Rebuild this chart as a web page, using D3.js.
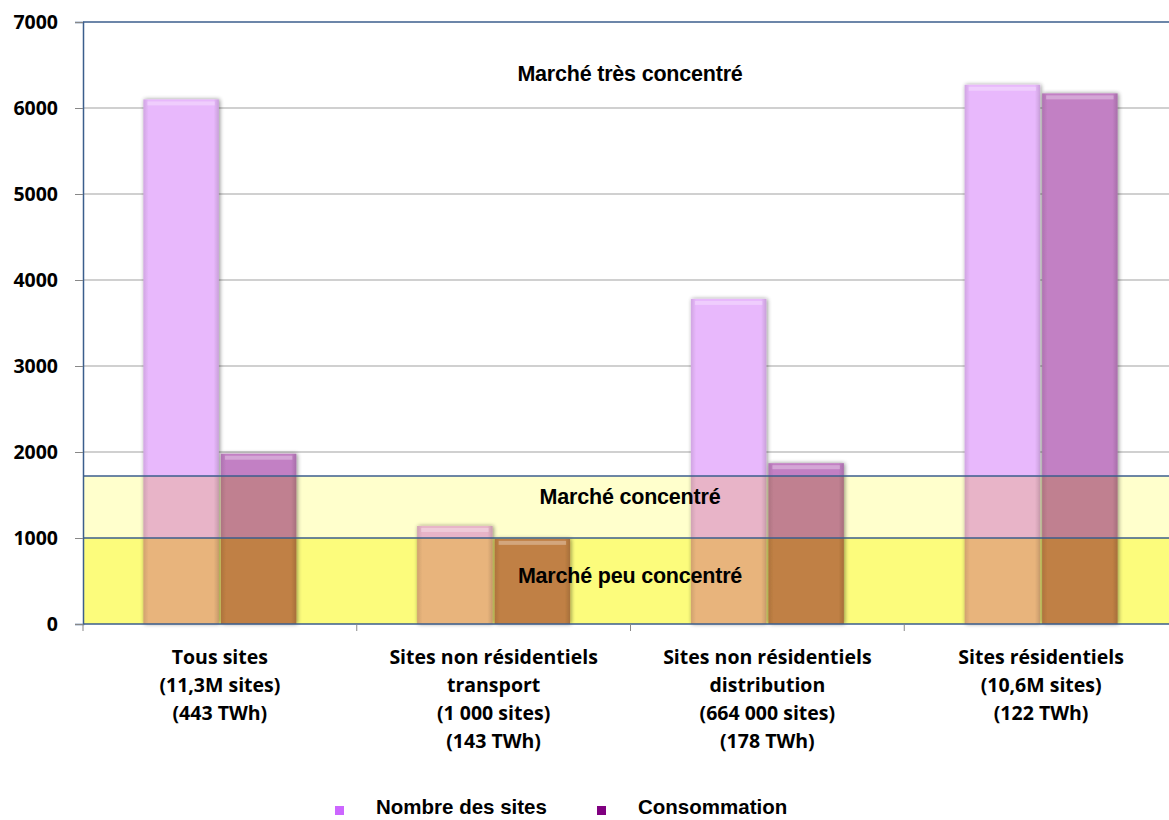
<!DOCTYPE html>
<html><head><meta charset="utf-8">
<script src="https://d3js.org/d3.v7.min.js"></script>
<style>body{margin:0;background:#fff}svg{display:block}</style>
</head><body>
<svg id="c" width="1169" height="820"></svg>
<script>
const categories = [
  ["Tous sites","(11,3M sites)","(443 TWh)"],
  ["Sites non résidentiels","transport","(1 000 sites)","(143 TWh)"],
  ["Sites non résidentiels","distribution","(664 000 sites)","(178 TWh)"],
  ["Sites résidentiels","(10,6M sites)","(122 TWh)"]
];
const seriesNames = ["Nombre des sites","Consommation"];
const nombre = [6100, 1140, 3780, 6270];
const consommation = [1980, 990, 1870, 6170];
const yTicks = [0,1000,2000,3000,4000,5000,6000,7000];
const thresholds = [1000, 1720];
const zoneLabels = [["Marché très concentré", 6310], ["Marché concentré", 1400], ["Marché peu concentré", 480]];

const svg = d3.select("#c");
const L = 83, R = 1178, T = 22, B = 624;
const x = d3.scaleBand().domain(d3.range(categories.length)).range([L, R]);
const xs = d3.scaleBand().domain([0,1]).range([0, 155]);
const y = d3.scaleLinear().domain([0, 7000]).range([B, T]);
// colours per zone: [peu concentré, concentré, très concentré]
const zoneBarColors = [["#e8b47c","#e8b4c8","#e8b8fc"], ["#c08044","#c08090","#c280c4"]];
const zoneBg = ["#fcfc7c", "#ffffcc", "#ffffff"];
const zoneBounds = [[0, thresholds[0]], [thresholds[0], thresholds[1]], [thresholds[1], 7000]];

const defs = svg.append("defs");
const f = defs.append("filter").attr("id","sh").attr("x","-20%").attr("y","-5%").attr("width","140%").attr("height","110%");
f.append("feGaussianBlur").attr("in","SourceAlpha").attr("stdDeviation",2).attr("result","b");
f.append("feOffset").attr("in","b").attr("dx",1).attr("dy",0).attr("result","o");
f.append("feComponentTransfer").attr("in","o").attr("result","o2").append("feFuncA").attr("type","linear").attr("slope",0.45);
const m = f.append("feMerge"); m.append("feMergeNode").attr("in","o2"); m.append("feMergeNode").attr("in","SourceGraphic");
zoneBarColors.forEach((cols,si)=>cols.forEach((c,zi)=>{
  const g = defs.append("linearGradient").attr("id",`g${si}_${zi}`).attr("x1",0).attr("x2",1);
  g.append("stop").attr("offset",0).attr("stop-color",d3.color(c).darker(0.3));
  g.append("stop").attr("offset",0.07).attr("stop-color",c);
  g.append("stop").attr("offset",0.93).attr("stop-color",c);
  g.append("stop").attr("offset",1).attr("stop-color",d3.color(c).darker(0.4));
}));
zoneBounds.forEach((zb,zi)=>{
  defs.append("clipPath").attr("id","z"+zi).append("rect")
    .attr("x",0).attr("width",1200).attr("y", zi===2 ? 0 : y(zb[1])).attr("height", (zi===0 ? 830 : y(zb[0])) - (zi===2 ? 0 : y(zb[1])));
});

// bands
svg.append("g").selectAll("rect").data(zoneBounds.slice(0,2)).join("rect")
  .attr("x",L).attr("width",1169-L).attr("y",d=>y(d[1])).attr("height",d=>y(d[0])-y(d[1]))
  .attr("fill",(d,i)=>zoneBg[i]);

// gridlines
svg.append("g").selectAll("line").data(yTicks.filter(d=>d>thresholds[1] && d<7000)).join("line")
  .attr("x1",L).attr("x2",1169).attr("y1",d=>y(d)).attr("y2",d=>y(d))
  .attr("stroke","#c0c0c0").attr("stroke-width",1.3);

// bars, drawn once per zone with the zone's tint
const series = [nombre, consommation];
const bars = svg.append("g");
zoneBounds.forEach((zb,zi)=>{
  const zg = bars.append("g").attr("clip-path",`url(#z${zi})`);
  series.forEach((vals, si)=>{
    zg.selectAll(null).data(vals).join("rect")
      .attr("x",(d,i)=>x(i)+(x.bandwidth()-155)/2+xs(si)+1)
      .attr("width",xs.bandwidth()-2)
      .attr("y",d=>y(d)).attr("height",d=>B-y(d))
      .attr("fill",`url(#g${si}_${zi})`).attr("filter","url(#sh)");
    zg.selectAll(null).data(vals).join("rect")
      .attr("x",(d,i)=>x(i)+(x.bandwidth()-155)/2+xs(si)+5)
      .attr("width",xs.bandwidth()-10)
      .attr("y",d=>y(d)+2).attr("height",4)
      .attr("fill","#fff").attr("opacity",0.3);
  });
});

// threshold lines
svg.append("g").selectAll("line").data(thresholds).join("line")
  .attr("x1",L).attr("x2",1169).attr("y1",d=>y(d)).attr("y2",d=>y(d))
  .attr("stroke","#3b5e8c").attr("stroke-width",1.5);
svg.append("line").attr("x1",L).attr("x2",1169).attr("y1",T).attr("y2",T).attr("stroke","#3b5e8c").attr("stroke-width",1.5);
svg.append("line").attr("x1",L).attr("x2",1169).attr("y1",B).attr("y2",B).attr("stroke","#3b5e8c").attr("stroke-width",1.5);

// y axis
const ya = svg.append("g").attr("transform",`translate(${L},0)`)
  .call(d3.axisLeft(y).tickValues(yTicks).tickSize(8).tickPadding(8).tickFormat(d3.format("d")));
ya.select(".domain").attr("stroke","#3b5e8c").attr("stroke-width",1.5);
ya.selectAll(".tick line").attr("stroke","#888");
ya.selectAll("text").attr("font-family","'Open Sans', 'Liberation Sans', sans-serif").attr("font-weight","bold")
  .attr("font-size","19.5px").attr("fill","#000").attr("dx","-9");

// x axis ticks
svg.append("g").selectAll("line").data(d3.range(categories.length+1)).join("line")
  .attr("x1",i=>L+i*x.bandwidth()).attr("x2",i=>L+i*x.bandwidth()).attr("y1",B).attr("y2",B+7)
  .attr("stroke","#888");

// x labels
const xl = svg.append("g");
categories.forEach((lines,i)=>{
  const t = xl.append("text").attr("x",x(i)+x.bandwidth()/2).attr("y",664).attr("text-anchor","middle")
    .attr("font-family","'Open Sans', 'Liberation Sans', sans-serif").attr("font-weight","bold").attr("font-size","19.5px");
  lines.forEach((s,j)=>t.append("tspan").attr("x",x(i)+x.bandwidth()/2).attr("dy",j?28:0).text(s));
});

// zone labels
svg.append("g").selectAll("text").data(zoneLabels).join("text")
  .attr("x",630).attr("y",d=>y(d[1])).attr("text-anchor","middle")
  .attr("font-family","'Liberation Sans', Arial, sans-serif").attr("font-weight","bold").attr("font-size","21.5px")
  .attr("letter-spacing","-0.2px").text(d=>d[0]);

// legend
const legX = [338, 600];
const legC = ["#cc66ff", "#800080"];
const lg = svg.append("g");
seriesNames.forEach((n,i)=>{
  lg.append("rect").attr("x",legX[i]-3).attr("y",806).attr("width",9).attr("height",9).attr("fill",legC[i]);
  lg.append("text").attr("x",legX[i]+38).attr("y",814).attr("font-family","'Liberation Sans', Arial, sans-serif")
    .attr("font-weight","bold").attr("font-size","20.5px").text(n);
});
</script>
</body></html>
